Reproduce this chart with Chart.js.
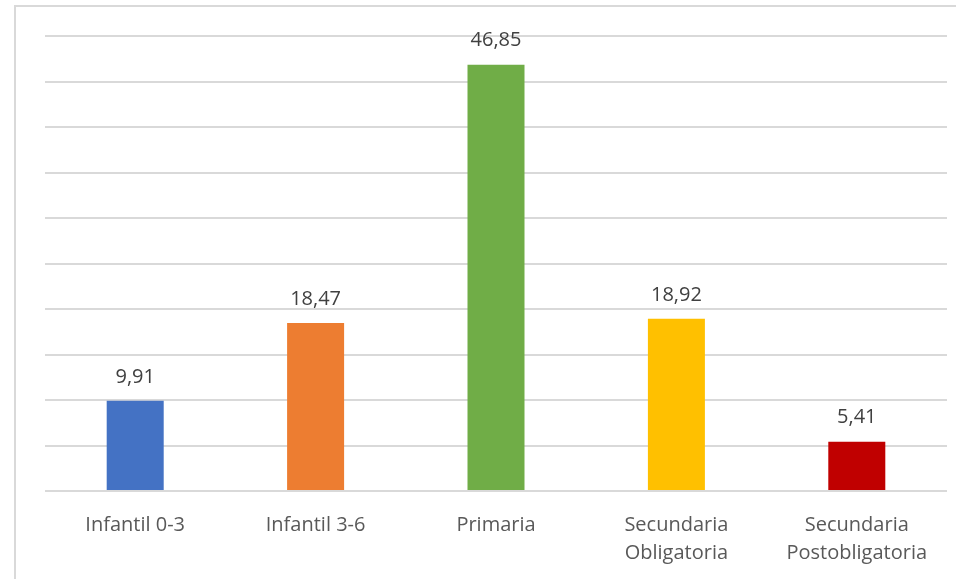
<!DOCTYPE html>
<html>
  <head>
    <title>Alumnado por etapa</title>
    <meta charset='utf-8'>
    <style>
      html, body {margin: 0px; padding: 0px; background: #ffffff; overflow: hidden;}
      .frame {position: absolute; left: 14px; top: 5px; width: 950px; height: 580px;
              border-top: 2px solid #d9d9d9; border-left: 2px solid #d9d9d9;}
      .wrap {position: absolute; left: 0px; top: 0px; width: 956px; height: 579px;}
    </style>
    <script src='https://cdn.jsdelivr.net/npm/chart.js'></script>
  </head>
  <body>
    <div class='frame'></div>
    <div class='wrap'><canvas id='myChart' width='956' height='579'></canvas></div>
    <script>
      var etapas = ['Infantil 0-3', 'Infantil 3-6', 'Primaria', ['Secundaria', 'Obligatoria'], ['Secundaria', 'Postobligatoria']];
      var valores = [9.91, 18.47, 46.85, 18.92, 5.41];
      var colores = ['#4472c4', '#ed7d31', '#70ad47', '#ffc000', '#c00000'];
      var ejeMax = 50;
      var ejePaso = 5;

      // etiquetas de valor encima de cada barra, con coma decimal
      var etiquetas = {
        id: 'etiquetas',
        afterDatasetsDraw: function(chart) {
          var ctx = chart.ctx;
          var meta = chart.getDatasetMeta(0);
          ctx.save();
          ctx.font = '20px "Open Sans", sans-serif';
          ctx.fillStyle = '#404040';
          ctx.textAlign = 'center';
          ctx.textBaseline = 'middle';
          meta.data.forEach(function(bar, i) {
            ctx.fillText(valores[i].toFixed(2).replace('.', ','), bar.x, bar.y - 24);
          });
          ctx.restore();
        }
      };

      var ctx = document.getElementById('myChart').getContext('2d');
      var myChart = new Chart(ctx, {
        type: 'bar',
        data: {
          labels: etapas,
          datasets: [{
            data: valores,
            backgroundColor: colores,
            barPercentage: 0.316,
            categoryPercentage: 1
          }]
        },
        options: {
          responsive: false,
          animation: false,
          layout: {padding: {left: 45, right: 9, top: 36, bottom: 0}},
          plugins: {legend: {display: false}, tooltip: {enabled: false}},
          scales: {
            x: {
              grid: {display: false},
              border: {display: false},
              ticks: {
                color: '#595959',
                font: {family: '"Open Sans", sans-serif', size: 20, lineHeight: 1.4},
                padding: 12,
                maxRotation: 0
              },
              afterFit: function(scale) { scale.height = 88; }
            },
            y: {
              min: 0,
              max: ejeMax,
              ticks: {display: false, stepSize: ejePaso},
              grid: {color: '#d9d9d9', lineWidth: 2, drawTicks: false},
              border: {display: false}
            }
          }
        },
        plugins: [etiquetas]
      });
    </script>
  </body>
</html>
